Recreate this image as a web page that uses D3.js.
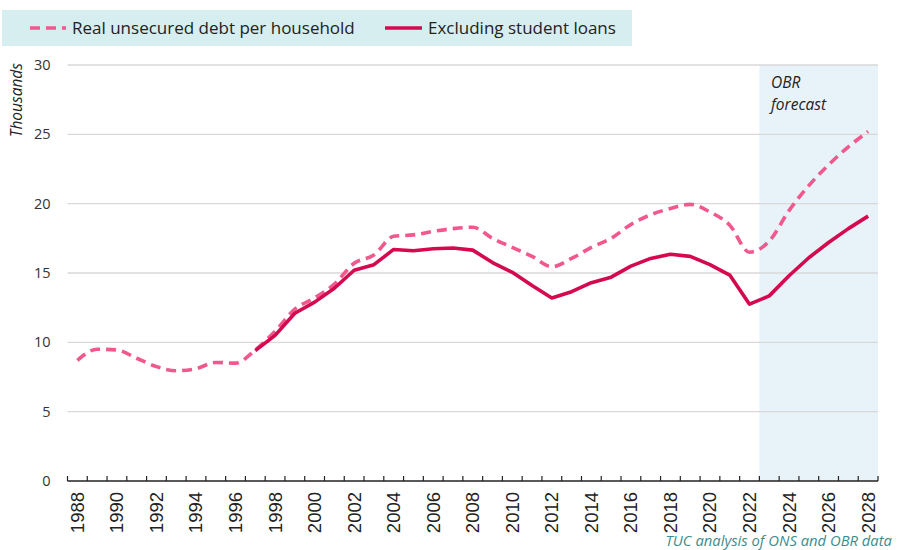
<!DOCTYPE html>
<html>
<head>
<meta charset="utf-8">
<script src="https://cdn.jsdelivr.net/npm/d3@7/dist/d3.min.js"></script>
<style>
  html, body { margin: 0; padding: 0; background: #fff; }
  svg { display: block; }
</style>
</head>
<body>
<svg id="chart" width="897" height="550"></svg>
<script>
// Years on the category axis
const years = d3.range(1988, 2029);
const yearTicks = years.filter(y => y % 2 === 0);

// Real unsecured debt per household, thousands (£, real terms)
const totalDebt = [
  8.7, 9.5, 9.45, 8.85, 8.25, 7.95, 8.1, 8.55, 8.5, 9.45,
  10.8, 12.4, 13.2, 14.2, 15.7, 16.3, 17.65, 17.75, 18.0, 18.2,
  18.3, 17.5, 16.85, 16.2, 15.45, 16.05, 16.85, 17.5, 18.5, 19.2,
  19.65, 19.95, 19.4, 18.45, 16.5, 17.3, 19.5, 21.3, 22.8, 24.1, 25.2
];

// Excluding student loans, starts in 1997
const exStudent = [
  null, null, null, null, null, null, null, null, null, 9.4,
  10.5, 12.1, 12.9, 13.9, 15.2, 15.6, 16.7, 16.6, 16.75, 16.8,
  16.65, 15.75, 15.05, 14.1, 13.2, 13.65, 14.3, 14.7, 15.5, 16.05,
  16.35, 16.2, 15.6, 14.85, 12.75, 13.35, 14.8, 16.1, 17.2, 18.2, 19.1
];

const yTicks = [0, 5, 10, 15, 20, 25, 30];
const forecastStart = 2023;
const seriesNames = ["Real unsecured debt per household", "Excluding student loans"];

const colDashed = "#f0588e";
const colSolid = "#d4094f";

const svg = d3.select("#chart");
const plotLeft = 67.5, plotRight = 878, plotTop = 65, plotBottom = 481;

const x = d3.scaleBand().domain(years).range([plotLeft, plotRight]);
const y = d3.scaleLinear().domain([0, 30]).range([plotBottom, plotTop]);
const cx = yr => x(yr) + x.bandwidth() / 2;

// Forecast shading
svg.append("rect")
  .attr("x", x(forecastStart))
  .attr("y", plotTop)
  .attr("width", plotRight - x(forecastStart))
  .attr("height", plotBottom - plotTop)
  .attr("fill", "#e8f3f9");

// Horizontal gridlines
svg.append("g").selectAll("line")
  .data(yTicks.filter(t => t > 0))
  .join("line")
  .attr("x1", plotLeft).attr("x2", plotRight)
  .attr("y1", d => y(d)).attr("y2", d => y(d))
  .attr("stroke", "#d9d9d9").attr("stroke-width", 1.3);

// Y axis labels
const yAxis = d3.axisLeft(y).tickValues(yTicks).tickSize(0).tickPadding(17);
svg.append("g")
  .attr("transform", `translate(${plotLeft},0)`)
  .call(yAxis)
  .call(g => g.select(".domain").remove())
  .call(g => g.selectAll("text")
    .attr("font-family", "'Open Sans', sans-serif")
    .attr("font-size", 14.5)
    .attr("fill", "#333"));

// X axis: ticks between categories, labels on every other year
const xAxis = d3.axisBottom(x).tickValues(yearTicks).tickSize(0).tickPadding(0);
const gx = svg.append("g").attr("transform", `translate(0,${plotBottom})`).call(xAxis);
gx.select(".domain").remove();
gx.selectAll(".tick text")
  .attr("font-family", "'Liberation Sans', Arial, sans-serif")
  .attr("font-size", 18.5)
  .attr("fill", "#222")
  .attr("text-anchor", "end")
  .attr("dy", "0.35em")
  .attr("transform", "translate(0,11) rotate(-90)")
  .attr("x", 0).attr("y", 0);

svg.append("line")
  .attr("x1", plotLeft).attr("x2", plotRight)
  .attr("y1", plotBottom).attr("y2", plotBottom)
  .attr("stroke", "#222").attr("stroke-width", 1.3);

const boundaries = years.map(yr => x(yr)).concat([plotRight]);
svg.append("g").selectAll("line")
  .data(boundaries)
  .join("line")
  .attr("x1", d => d).attr("x2", d => d)
  .attr("y1", plotBottom).attr("y2", plotBottom - 5)
  .attr("stroke", "#222").attr("stroke-width", 1.2);

// Series lines
const line = d3.line()
  .defined(d => d.v !== null)
  .x(d => cx(d.yr))
  .y(d => y(d.v))
  .curve(d3.curveMonotoneX);

svg.append("path")
  .datum(years.map((yr, i) => ({ yr, v: totalDebt[i] })))
  .attr("d", line)
  .attr("fill", "none")
  .attr("stroke", colDashed)
  .attr("stroke-width", 3.6)
  .attr("stroke-dasharray", "10,6");

svg.append("path")
  .datum(years.map((yr, i) => ({ yr, v: exStudent[i] })))
  .attr("d", line.curve(d3.curveLinear))
  .attr("fill", "none")
  .attr("stroke", colSolid)
  .attr("stroke-width", 3.6)
  .attr("stroke-linejoin", "round");

// Y axis title
svg.append("text")
  .attr("transform", `translate(22,63) rotate(-90)`)
  .attr("text-anchor", "end")
  .attr("font-family", "'Open Sans', sans-serif")
  .attr("font-style", "italic")
  .attr("font-size", 15.5)
  .attr("fill", "#222")
  .text("Thousands");

// Forecast label
const fl = svg.append("text")
  .attr("font-family", "'Open Sans', sans-serif")
  .attr("font-style", "italic")
  .attr("font-size", 15.5)
  .attr("fill", "#222");
fl.append("tspan").attr("x", 771).attr("y", 88).text("OBR");
fl.append("tspan").attr("x", 771).attr("y", 110).text("forecast");

// Legend
svg.append("rect")
  .attr("x", 2).attr("y", 10).attr("width", 630).attr("height", 36)
  .attr("fill", "#d6eef0");
const legend = [
  { name: seriesNames[0], color: colDashed, dash: "10,6", x1: 30, x2: 66, tx: 72 },
  { name: seriesNames[1], color: colSolid, dash: null, x1: 385, x2: 422, tx: 428 }
];
const lg = svg.append("g").selectAll("g").data(legend).join("g");
lg.append("line")
  .attr("x1", d => d.x1).attr("x2", d => d.x2)
  .attr("y1", 28).attr("y2", 28)
  .attr("stroke", d => d.color)
  .attr("stroke-width", 3.6)
  .attr("stroke-dasharray", d => d.dash);
lg.append("text")
  .attr("x", d => d.tx).attr("y", 34)
  .attr("font-family", "'Open Sans', sans-serif")
  .attr("font-size", 17)
  .attr("fill", "#222")
  .text(d => d.name);

// Source note
svg.append("text")
  .attr("x", 892).attr("y", 546)
  .attr("text-anchor", "end")
  .attr("font-family", "'Open Sans', sans-serif")
  .attr("font-style", "italic")
  .attr("font-size", 14.8)
  .attr("fill", "#3d8c8c")
  .text("TUC analysis of ONS and OBR data");
</script>
</body>
</html>
